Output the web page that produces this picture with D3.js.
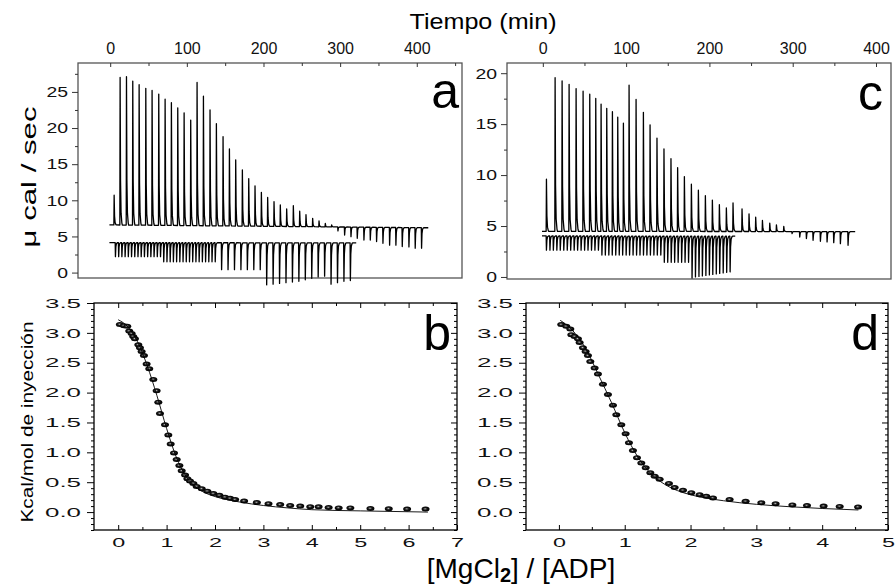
<!DOCTYPE html>
<html><head><meta charset="utf-8">
<script src="https://cdn.jsdelivr.net/npm/d3@7"></script>
<style>body{margin:0;background:#fff}svg{display:block;font-family:"Liberation Sans",Arial,sans-serif}</style>
</head><body><svg id="c" width="896" height="587"></svg>
<script>
// ---------- DATA ----------
// Panel a: thermogram (time in min, power in µcal/s)
const aUpTimes = [4.8,12.6,20.9,29.1,37.4,46.1,54.3,63.0,71.3,79.5,87.8,96.1,104.7,113.0,121.3,129.9,138.2,146.9,155.2,163.4,172.1,180.4,188.6,196.9,205.1,213.4,221.6,229.9,238.6,246.9,255.1,263.8,272.1,280.3,288.6,296.8,305.5,313.8,322.0,330.7,339.0,347.2,355.5,364.2,372.4,380.7,389.4,397.6,405.9];
const aUpPeaks = [10.7,27.0,27.1,26.5,26.0,25.5,25.2,24.7,24.0,23.5,22.8,22.1,21.1,26.3,24.4,22.5,20.6,18.8,17.1,15.6,14.2,13.0,12.0,11.1,10.4,9.8,9.35,8.8,9.25,8.5,8.0,7.5,7.15,6.8,6.6,5.76,5.2,4.97,4.75,4.5,4.5,4.3,4.05,3.8,3.8,3.6,3.55,3.37,3.37];
const aUpBase = [6.6, 6.2];
const aUpSpan = [-1, 415];
const aLoTimes = [6.5,10.7,14.9,19.1,23.3,27.5,31.7,35.9,40.1,44.3,48.5,52.7,56.9,61.1,65.3,69.5,73.7,77.9,82.1,86.3,90.5,94.7,98.9,103.1,107.3,111.5,115.7,119.9,124.1,128.3,132.5,136.7,145.0,153.4,161.8,170.2,178.6,187.0,195.4,203.8,212.2,220.6,229.0,237.4,245.8,254.2,262.6,271.0,279.4,287.8,296.2,304.6,313.0];
const aLoPeaks = [2.2,2.2,2.2,2.2,2.2,2.2,2.2,2.2,2.2,2.2,2.2,2.2,2.2,2.2,2.2,1.5,1.5,1.5,1.5,1.5,1.5,1.5,1.5,1.5,1.5,1.5,1.5,1.5,1.5,1.5,1.5,1.5,0.4,0.4,0.4,0.4,0.4,0.4,0.4,-1.7,-1.6,-1.5,-1.4,-1.3,-1.2,-1.0,-0.8,-0.6,-0.5,-1.6,-1.4,-1.2,-1.1];
const aLoBase = [4.15, 4.1];
const aLoSpan = [-1, 321];

// Panel c: thermogram
const cUpTimes = [4.0,14.4,22.8,31.2,39.6,48.0,56.0,63.2,69.6,76.4,83.2,89.6,96.4,103.2,111.6,120.4,128.4,136.7,145.1,153.5,161.5,169.6,178.0,186.4,194.8,203.2,211.6,220.0,228.0,238.8,247.2,255.2,263.3,272.1,280.1,288.9,298.9,308.1,316.1,324.1,332.9,340.9,348.9,356.9,366.1];
const cUpPeaks = [9.59,19.56,19.24,18.91,18.49,18.23,17.94,17.52,16.97,16.55,16.22,15.68,15.09,18.82,17.42,16.16,14.93,13.63,12.57,11.60,10.72,9.85,9.10,8.52,7.97,7.55,7.09,6.77,7.26,6.68,6.19,5.87,5.54,5.29,5.12,4.96,4.25,3.92,3.77,3.6,3.5,3.44,3.37,3.27,3.11];
const cUpBase = [4.48, 4.45];
const cUpSpan = [-1, 375];
const cLoTimes = [4.0,8.2,12.3,16.5,20.6,24.8,29.0,33.1,37.3,41.4,45.6,49.8,53.9,58.1,62.2,66.4,70.6,74.7,78.9,83.0,87.2,91.4,95.5,99.7,103.8,108.0,112.2,116.3,120.5,124.6,128.8,133.0,137.1,141.3,145.5,149.6,153.8,157.9,162.1,166.3,170.4,174.6,178.8,182.9,187.1,191.2,195.4,199.6,203.7,207.9,212.0,216.2,220.4,224.5];
const cLoPeaks = [2.63,2.63,2.63,2.63,2.63,2.63,2.63,2.63,2.63,2.63,2.63,2.63,2.63,2.63,2.63,2.63,2.15,2.15,2.15,2.15,2.15,2.15,2.15,2.15,2.15,2.15,2.15,2.15,2.15,2.15,2.15,2.15,2.15,2.15,1.44,1.44,1.44,1.44,1.44,1.44,1.44,1.44,-0.1,0.0,0.05,0.1,0.15,0.2,0.25,0.3,0.35,0.4,0.45,0.5];
const cLoBase = [4.03, 4.0];
const cLoSpan = [-1, 231];

// Panel b: integrated heats
const bX = [0.035,0.118,0.187,0.228,0.277,0.311,0.346,0.415,0.449,0.484,0.532,0.587,0.642,0.725,0.794,0.829,0.863,0.967,1.036,1.084,1.153,1.208,1.264,1.312,1.381,1.429,1.484,1.553,1.622,1.726,1.843,1.967,2.092,2.209,2.312,2.416,2.602,2.865,3.106,3.347,3.554,3.761,3.968,4.141,4.348,4.555,4.797,5.211,5.59,5.97,6.35];
const bY = [3.14,3.12,3.11,3.03,2.99,2.94,2.90,2.80,2.75,2.69,2.62,2.48,2.40,2.22,2.03,1.84,1.65,1.46,1.29,1.14,0.99,0.88,0.78,0.69,0.62,0.56,0.52,0.48,0.43,0.39,0.35,0.31,0.28,0.25,0.23,0.21,0.185,0.16,0.14,0.125,0.11,0.10,0.09,0.088,0.077,0.07,0.07,0.06,0.055,0.05,0.05];
const bFitX = [0.0,0.2,0.4,0.6,0.8,1.0,1.2,1.4,1.6,1.8,2.0,2.5,3.0,3.5,4.0,5.0,6.4];
const bFitY = [3.22,3.1,2.85,2.45,1.95,1.4,0.92,0.6,0.42,0.32,0.26,0.17,0.11,0.07,0.04,0.02,0.0];

// Panel d: integrated heats
const dX = [0.036,0.112,0.173,0.188,0.239,0.289,0.315,0.365,0.406,0.441,0.477,0.543,0.593,0.669,0.745,0.821,0.872,0.948,1.014,1.064,1.125,1.186,1.252,1.318,1.389,1.455,1.53,1.672,1.758,1.885,2.012,2.138,2.24,2.341,2.594,2.837,3.075,3.293,3.547,3.769,4.022,4.266,4.545];
const dY = [3.14,3.11,3.065,2.97,2.94,2.90,2.84,2.75,2.69,2.62,2.52,2.41,2.31,2.14,1.97,1.79,1.63,1.46,1.31,1.16,1.03,0.91,0.82,0.74,0.66,0.60,0.55,0.48,0.41,0.365,0.325,0.29,0.265,0.235,0.21,0.18,0.155,0.14,0.12,0.11,0.10,0.095,0.085];
const dFitX = [0.02,0.2,0.4,0.6,0.8,1.0,1.2,1.4,1.6,1.8,2.0,2.5,3.0,3.5,4.0,4.55];
const dFitY = [3.21,3.05,2.75,2.3,1.83,1.33,0.92,0.64,0.47,0.36,0.29,0.19,0.13,0.09,0.06,0.035];

// Tick values / labels
const timeTicksA = [0,100,200,300,400];
const timeTicksC = [0,100,200,300,400];
const powerTicksA = [0,5,10,15,20,25];
const powerTicksC = [0,5,10,15,20];
const heatTicks = [0,0.5,1,1.5,2,2.5,3,3.5];
const ratioTicksB = [0,1,2,3,4,5,6,7];
const ratioTicksD = [0,1,2,3,4,5];

const texts = {
  timeTitle: "Tiempo (min)",
  powerTitle: "\u03bc cal / sec",
  heatTitle: "Kcal/mol de inyección",
  letters: ["a","b","c","d"]
};

// ---------- DRAW ----------
const svg = d3.select("#c");
const defs = svg.append("defs");
const grad = defs.append("radialGradient").attr("id","ball").attr("cx","45%").attr("cy","45%").attr("r","55%");
grad.append("stop").attr("offset","0%").attr("stop-color","#c8c8c8");
grad.append("stop").attr("offset","22%").attr("stop-color","#555");
grad.append("stop").attr("offset","50%").attr("stop-color","#111");
grad.append("stop").attr("offset","100%").attr("stop-color","#000");

function panel(o){
  const x = d3.scaleLinear().domain(o.xd).range([o.x0,o.x1]);
  const y = d3.scaleLinear().domain(o.yd).range([o.y1,o.y0]);
  return {x,y,o};
}
const A = panel({x0:78,x1:462,y0:63,y1:278,xd:[-42,459],yd:[-0.75,29]});
const C = panel({x0:507,x1:891,y0:63,y1:279,xd:[-43,418],yd:[-0.2,21]});
const B = panel({x0:94,x1:457,y0:303,y1:530,xd:[-0.5,7],yd:[-0.3,3.5]});
const D = panel({x0:526,x1:888,y0:303,y1:530,xd:[-0.5,5],yd:[-0.3,3.5]});

function frame(P,color){
  svg.append("rect").attr("x",P.o.x0).attr("y",P.o.y0)
    .attr("width",P.o.x1-P.o.x0).attr("height",P.o.y1-P.o.y0)
    .attr("fill","none").attr("stroke",color).attr("stroke-width",1.3);
}

function styleAxis(g,color){
  g.select(".domain").remove();
  g.selectAll("line").attr("stroke",color).attr("stroke-width",1);
}

function stretchText(sel, perChar){
  sel.each(function(){
    const t = d3.select(this); const s = t.text();
    if(s) t.attr("textLength", perChar(s)).attr("lengthAdjust","spacingAndGlyphs");
  });
}

// thermogram panels
function thermo(P, majorX, majorY, minorYStep){
  frame(P,"#555");
  const minorX = d3.range(0, P.o.xd[1]+1, 50).filter(v=>!majorX.includes(v) && P.x(v)<P.o.x1-2);
  const gmin = svg.append("g").attr("transform",`translate(0,${P.o.y0})`)
    .call(d3.axisBottom(P.x).tickValues(minorX).tickSize(3).tickFormat(""));
  styleAxis(gmin,"#333");
  const gt = svg.append("g").attr("transform",`translate(0,${P.o.y0})`)
    .call(d3.axisTop(P.x).tickValues(majorX).tickSize(0).tickPadding(9).tickFormat(d3.format("d")));
  styleAxis(gt,"#333");
  gt.selectAll("text").attr("font-size",16).attr("fill","#111").attr("font-family","Liberation Sans, Arial");
  const gtk = svg.append("g").attr("transform",`translate(0,${P.o.y0})`)
    .call(d3.axisBottom(P.x).tickValues(majorX).tickSize(4).tickFormat(""));
  styleAxis(gtk,"#333");
  const minorY = d3.range(minorYStep, P.o.yd[1], minorYStep*2);
  const gl2 = svg.append("g").attr("transform",`translate(${P.o.x0},0)`)
    .call(d3.axisLeft(P.y).tickValues(minorY).tickSize(3).tickFormat(""));
  styleAxis(gl2,"#333");
  const gl = svg.append("g").attr("transform",`translate(${P.o.x0},0)`)
    .call(d3.axisLeft(P.y).tickValues(majorY).tickSize(6).tickPadding(4).tickFormat(d3.format("d")));
  styleAxis(gl,"#333");
  gl.selectAll("text").attr("font-size",15).attr("fill","#111").attr("font-family","Liberation Sans, Arial");
  stretchText(gl.selectAll("text"), s=>s.length*10.8);
}

function tracePts(times, peaks, span, base){
  const bl = t => base[0] + (base[1]-base[0])*(t-span[0])/(span[1]-span[0]);
  const pts = [[span[0], bl(span[0])]];
  times.forEach((t,i)=>{
    const b = bl(t), p = peaks[i], h = p-b;
    pts.push([t,b],[t+0.35,p],[t+0.9,b+h*0.3],[t+1.6,b+h*0.08],[t+2.6,b+h*0.015],[t+3.2,b]);
  });
  pts.push([span[1], bl(span[1])]);
  return pts;
}
function drawTrace(P, times, peaks, span, base){
  const line = d3.line().x(d=>P.x(d[0])).y(d=>P.y(d[1]));
  svg.append("path").attr("d", line(tracePts(times,peaks,span,base)))
    .attr("fill","none").attr("stroke","#000").attr("stroke-width",1.3).attr("stroke-linejoin","round");
}

thermo(A, timeTicksA, powerTicksA, 2.5);
thermo(C, timeTicksC, powerTicksC, 2.5);
drawTrace(A, aLoTimes, aLoPeaks, aLoSpan, aLoBase);
drawTrace(A, aUpTimes, aUpPeaks, aUpSpan, aUpBase);
drawTrace(C, cLoTimes, cLoPeaks, cLoSpan, cLoBase);
drawTrace(C, cUpTimes, cUpPeaks, cUpSpan, cUpBase);

// heat panels
function heat(P, xTicks, xs, ys, fx, fy){
  frame(P,"#000");
  const minorY = d3.range(-3, 35).map(v=>v/10).filter(v=>Math.abs(v*2-Math.round(v*2))>1e-6);
  const majorHalfX = d3.range(P.o.xd[0]*2+1, P.o.xd[1]*2).map(v=>v/2).filter(v=>!Number.isInteger(v));
  const gl = svg.append("g").attr("transform",`translate(${P.o.x0},0)`)
    .call(d3.axisLeft(P.y).tickValues(heatTicks).tickSize(7).tickPadding(6).tickFormat(d3.format(".1f")));
  styleAxis(gl,"#000");
  gl.selectAll("text").attr("font-size",13).attr("fill","#111").attr("font-family","Liberation Sans, Arial");
  stretchText(gl.selectAll("text"), s=>36);
  const gl2 = svg.append("g").attr("transform",`translate(${P.o.x0},0)`)
    .call(d3.axisLeft(P.y).tickValues(minorY).tickSize(3).tickFormat(""));
  styleAxis(gl2,"#000");
  const gr = svg.append("g").attr("transform",`translate(${P.o.x1},0)`)
    .call(d3.axisLeft(P.y).tickValues(heatTicks).tickSize(6).tickFormat(""));
  styleAxis(gr,"#000");
  const gr2 = svg.append("g").attr("transform",`translate(${P.o.x1},0)`)
    .call(d3.axisLeft(P.y).tickValues(minorY).tickSize(3).tickFormat(""));
  styleAxis(gr2,"#000");
  const gb = svg.append("g").attr("transform",`translate(0,${P.o.y1})`)
    .call(d3.axisTop(P.x).tickValues(xTicks).tickSize(5).tickFormat(""));
  styleAxis(gb,"#000");
  const gbl = svg.append("g").attr("transform",`translate(0,${P.o.y1})`)
    .call(d3.axisBottom(P.x).tickValues(xTicks).tickSize(0).tickPadding(8).tickFormat(d3.format("d")));
  styleAxis(gbl,"#000");
  gbl.selectAll("text").attr("font-size",12).attr("fill","#111").attr("font-family","Liberation Sans, Arial");
  stretchText(gbl.selectAll("text"), s=>13);
  const gb2 = svg.append("g").attr("transform",`translate(0,${P.o.y1})`)
    .call(d3.axisTop(P.x).tickValues(majorHalfX).tickSize(3).tickFormat(""));
  styleAxis(gb2,"#000");
  const gt = svg.append("g").attr("transform",`translate(0,${P.o.y0})`)
    .call(d3.axisBottom(P.x).tickValues(xTicks.filter(v=>P.x(v)<P.o.x1-1)).tickSize(5).tickFormat(""));
  styleAxis(gt,"#000");
  const gt2 = svg.append("g").attr("transform",`translate(0,${P.o.y0})`)
    .call(d3.axisBottom(P.x).tickValues(majorHalfX).tickSize(3).tickFormat(""));
  styleAxis(gt2,"#000");
  svg.append("g").selectAll("ellipse").data(xs.map((v,i)=>[v,ys[i]])).join("ellipse")
    .attr("cx",d=>P.x(d[0])).attr("cy",d=>P.y(d[1])).attr("rx",4).attr("ry",2.5)
    .attr("fill","url(#ball)");
  const line = d3.line().x(d=>P.x(d[0])).y(d=>P.y(d[1])).curve(d3.curveMonotoneX);
  svg.append("path").attr("d", line(fx.map((v,i)=>[v,fy[i]])))
    .attr("fill","none").attr("stroke","#000").attr("stroke-width",0.9);
}
heat(B, ratioTicksB, bX, bY, bFitX, bFitY);
heat(D, ratioTicksD, dX, dY, dFitX, dFitY);

// panel letters
const letterPos = [[459,108],[451,350],[883,110],[879,350]];
letterPos.forEach((p,i)=>{
  svg.append("text").attr("x",p[0]).attr("y",p[1]).attr("text-anchor","end")
    .attr("font-size",50).attr("fill","#000").text(texts.letters[i]);
});

// titles
svg.append("text").attr("x",483).attr("y",29).attr("text-anchor","middle")
  .attr("font-size",22).attr("textLength",147).attr("lengthAdjust","spacingAndGlyphs").text(texts.timeTitle);
svg.append("text").attr("transform","translate(36,177) rotate(-90)").attr("text-anchor","middle")
  .attr("font-size",21).attr("textLength",141).attr("lengthAdjust","spacingAndGlyphs").text(texts.powerTitle);
svg.append("text").attr("transform","translate(33,422) rotate(-90)").attr("text-anchor","middle")
  .attr("font-size",16).attr("textLength",201).attr("lengthAdjust","spacingAndGlyphs").text(texts.heatTitle);
const xt = svg.append("text").attr("x",521).attr("y",578).attr("text-anchor","middle").attr("font-size",28);
xt.append("tspan").text("[MgCl");
xt.append("tspan").attr("font-size",20).attr("dy",4).attr("font-weight","bold").text("2");
xt.append("tspan").attr("dy",-4).text("] / [ADP]");
</script></body></html>
